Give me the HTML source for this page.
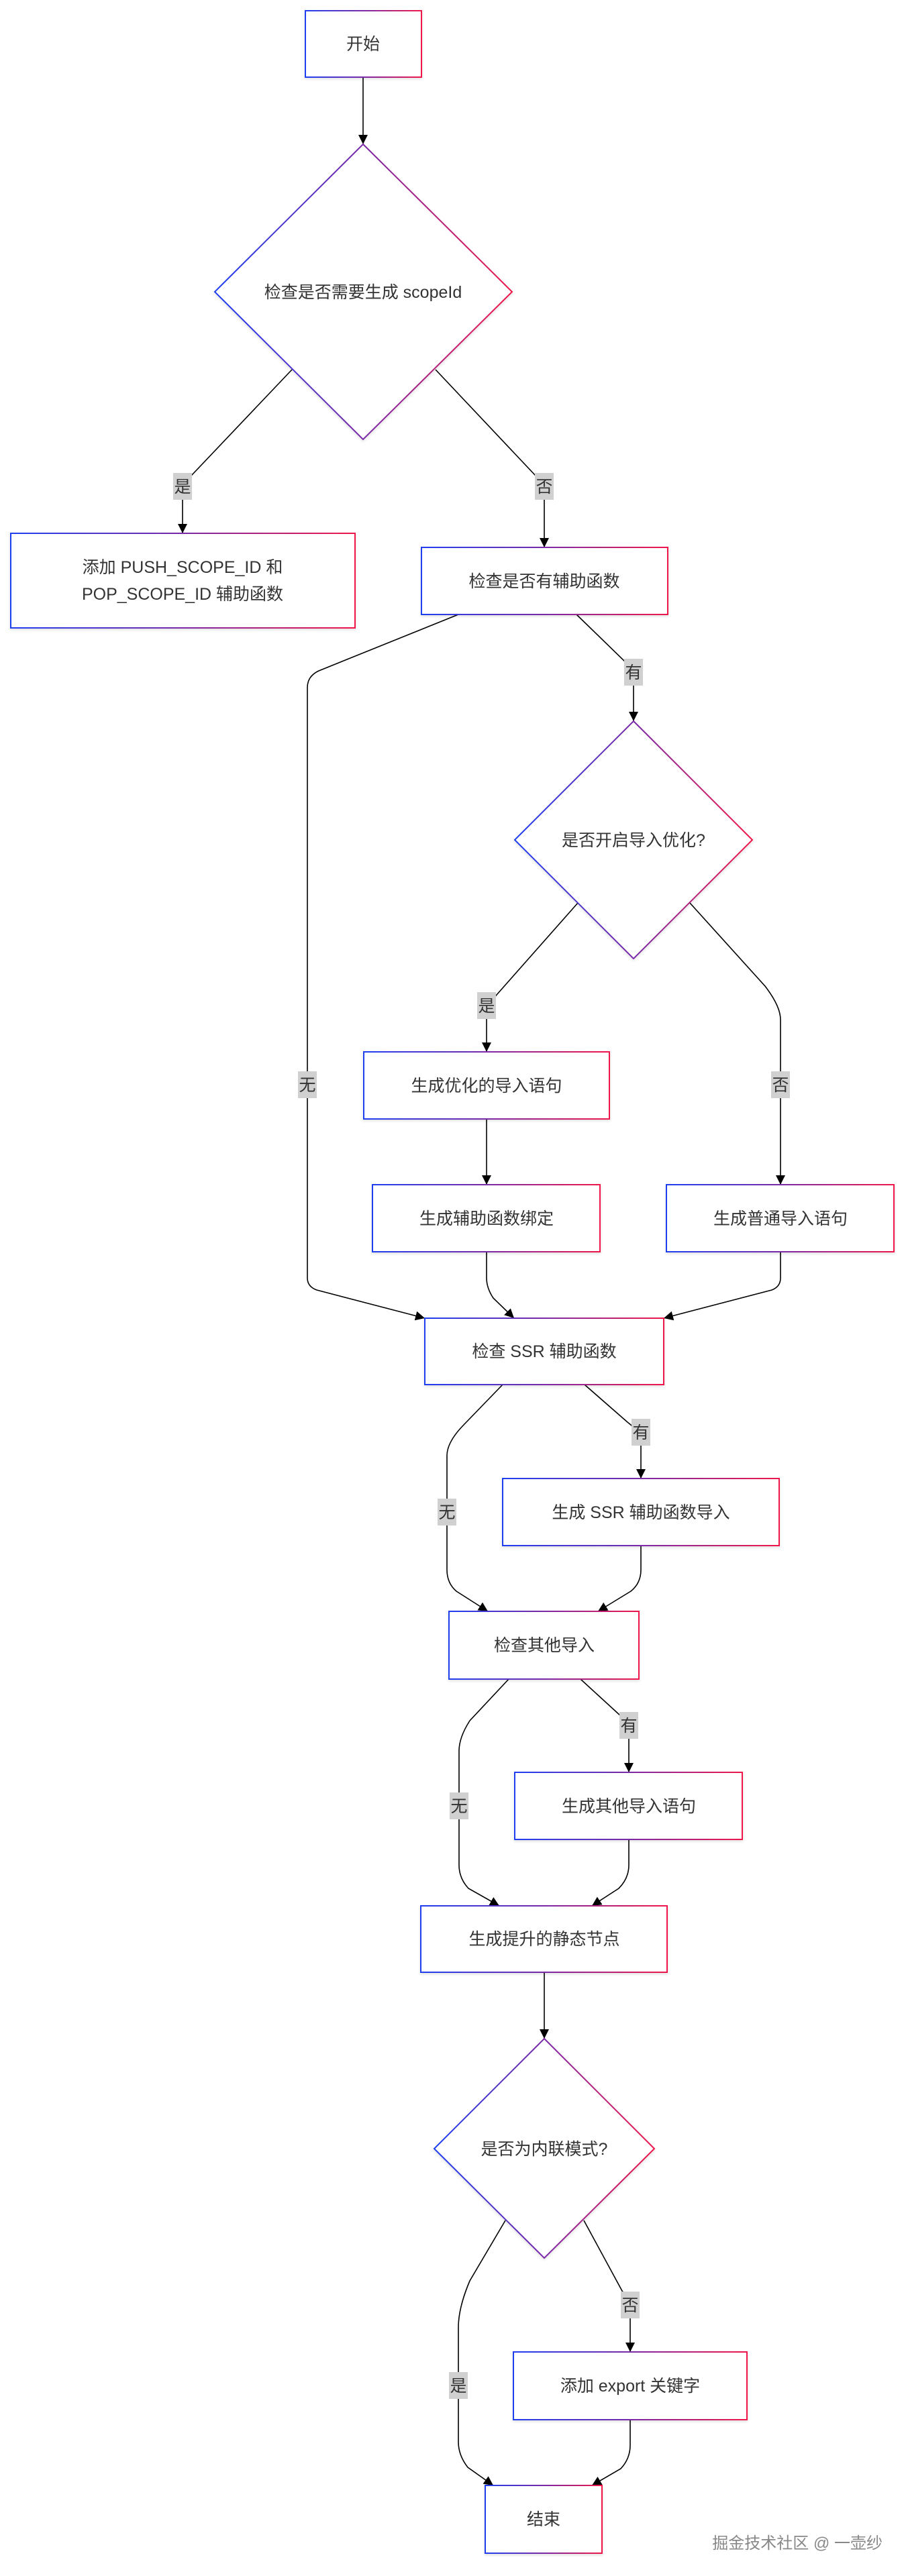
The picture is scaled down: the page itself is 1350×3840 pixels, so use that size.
<!DOCTYPE html>
<html><head><meta charset="utf-8"><style>
html,body{margin:0;padding:0;background:#fff;}
svg{display:block;}
text{font-family:"Liberation Sans","Noto Sans CJK SC",sans-serif;font-size:25px;fill:#333;}
.n{fill:#fff;stroke:url(#g);stroke-width:2;filter:url(#sh);}
.e{fill:none;stroke:#000;stroke-width:1.6;}
.lb{fill:#d0d0d0;}
</style></head><body>
<svg width="1350" height="3840" viewBox="0 0 1350 3840" xmlns="http://www.w3.org/2000/svg">
<defs>
<linearGradient id="g" x1="0" y1="0.5" x2="1" y2="0.5">
<stop offset="0" stop-color="#1f3ff0"/><stop offset="0.5" stop-color="#7a2aa8"/><stop offset="1" stop-color="#f0184a"/>
</linearGradient>
<filter id="sh" x="-10%" y="-10%" width="120%" height="130%"><feDropShadow dx="0" dy="2" stdDeviation="2" flood-color="#000" flood-opacity="0.12"/></filter>
<marker id="a" markerUnits="userSpaceOnUse" markerWidth="16" markerHeight="16" refX="14" refY="7" orient="auto"><path d="M0,0 L14,7 L0,14 z" fill="#000"/></marker>
</defs>

<g class="e" marker-end="url(#a)">
<path class="e" d="M541,115 L541,215"/>
<path class="e" d="M435,551 L286,708 Q272,725 272,740 L272,795"/>
<path class="e" d="M649,551 L797,708 Q811,725 811,740 L811,816"/>
<path class="e" d="M859,916 L930,985 Q944,1000 944,1015 L944,1075"/>
<path class="e" d="M683,916 L475,1000 Q458,1008 458,1025 L458,1905 Q458,1918 472,1923 L633,1965"/>
<path class="e" d="M861,1346 L740,1483 Q725,1500 725,1515 L725,1568"/>
<path class="e" d="M1028,1346 L1140,1470 Q1163,1500 1163,1520 L1163,1766"/>
<path class="e" d="M725,1668 L725,1766"/>
<path class="e" d="M725,1866 L725,1905 Q725,1920 735,1935 L766,1965"/>
<path class="e" d="M1163,1866 L1163,1905 Q1163,1918 1150,1923 L989,1965"/>
<path class="e" d="M749,2064 L690,2125 Q666,2150 666,2170 L666,2340 Q666,2360 680,2372 L727,2402"/>
<path class="e" d="M871,2064 L935,2120 Q955,2135 955,2150 L955,2204"/>
<path class="e" d="M955,2304 L955,2340 Q955,2360 940,2372 L891,2402"/>
<path class="e" d="M758,2503 L700,2565 Q684,2590 684,2610 L684,2780 Q684,2800 698,2815 L744,2841"/>
<path class="e" d="M865,2503 L925,2558 Q937,2570 937,2590 L937,2642"/>
<path class="e" d="M937,2742 L937,2780 Q937,2800 922,2815 L882,2841"/>
<path class="e" d="M811,2940 L811,3039"/>
<path class="e" d="M753,3310 L700,3400 Q683,3440 683,3470 L683,3640 Q683,3660 697,3678 L735,3705"/>
<path class="e" d="M870,3310 L927,3415 Q939,3430 939,3445 L939,3506"/>
<path class="e" d="M939,3607 L939,3645 Q939,3665 925,3680 L882,3705"/>
</g>

<g text-anchor="middle">
<rect class="lb" x="258" y="705" width="28" height="40"/><text x="272" y="734">是</text>
<rect class="lb" x="797" y="705" width="28" height="40"/><text x="811" y="734">否</text>
<rect class="lb" x="930" y="982" width="28" height="40"/><text x="944" y="1011">有</text>
<rect class="lb" x="444" y="1597" width="28" height="40"/><text x="458" y="1626">无</text>
<rect class="lb" x="711" y="1479" width="28" height="40"/><text x="725" y="1508">是</text>
<rect class="lb" x="1149" y="1597" width="28" height="40"/><text x="1163" y="1626">否</text>
<rect class="lb" x="652" y="2234" width="28" height="40"/><text x="666" y="2263">无</text>
<rect class="lb" x="941" y="2115" width="28" height="40"/><text x="955" y="2144">有</text>
<rect class="lb" x="670" y="2672" width="28" height="40"/><text x="684" y="2701">无</text>
<rect class="lb" x="923" y="2552" width="28" height="40"/><text x="937" y="2581">有</text>
<rect class="lb" x="669" y="3536" width="28" height="40"/><text x="683" y="3565">是</text>
<rect class="lb" x="925" y="3416" width="28" height="40"/><text x="939" y="3445">否</text>
</g>

<g text-anchor="middle">
<rect class="n" x="455" y="16" width="173" height="99"/><text x="541" y="74">开始</text>
<polygon class="n" points="541,215 763,435 541,655 320,435"/><text x="541" y="444">检查是否需要生成 scopeId</text>
<rect class="n" x="16" y="795" width="513" height="141"/><text x="272" y="854">添加 PUSH_SCOPE_ID 和</text><text x="272" y="894">POP_SCOPE_ID 辅助函数</text>
<rect class="n" x="628" y="816" width="367" height="100"/><text x="811" y="875">检查是否有辅助函数</text>
<polygon class="n" points="944,1075 1121,1252 944,1429 767,1252"/><text x="944" y="1261">是否开启导入优化?</text>
<rect class="n" x="542" y="1568" width="366" height="100"/><text x="725" y="1627">生成优化的导入语句</text>
<rect class="n" x="555" y="1766" width="339" height="100"/><text x="725" y="1825">生成辅助函数绑定</text>
<rect class="n" x="993" y="1766" width="339" height="100"/><text x="1163" y="1825">生成普通导入语句</text>
<rect class="n" x="633" y="1965" width="356" height="99"/><text x="811" y="2023">检查 SSR 辅助函数</text>
<rect class="n" x="749" y="2204" width="412" height="100"/><text x="955" y="2263">生成 SSR 辅助函数导入</text>
<rect class="n" x="669" y="2402" width="283" height="101"/><text x="811" y="2461">检查其他导入</text>
<rect class="n" x="767" y="2642" width="339" height="100"/><text x="937" y="2701">生成其他导入语句</text>
<rect class="n" x="627" y="2841" width="367" height="99"/><text x="811" y="2899">生成提升的静态节点</text>
<polygon class="n" points="811,3039 975,3203 811,3366 647,3203"/><text x="811" y="3212">是否为内联模式?</text>
<rect class="n" x="765" y="3506" width="348" height="101"/><text x="939" y="3565">添加 export 关键字</text>
<rect class="n" x="723" y="3705" width="174" height="101"/><text x="810" y="3764">结束</text>
</g>
<text x="1315" y="3799" text-anchor="end" style="font-size:24px;fill:#888;">掘金技术社区 @ 一壶纱</text>
</svg>
</body></html>
